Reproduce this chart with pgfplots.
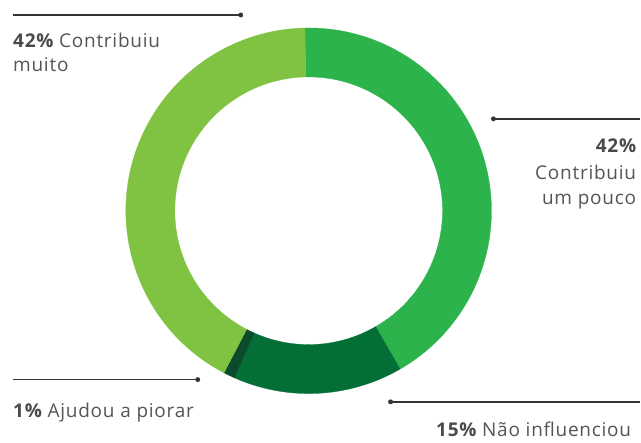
\documentclass[border=0pt]{standalone}
\usepackage{pgfplots}
\usepackage{pgfplotstable}
\pgfplotsset{compat=1.18}
\usepackage{fontspec}
\setmainfont{Open Sans}[LetterSpace=4]
\definecolor{cA}{HTML}{80C241}
\definecolor{cB}{HTML}{2DB34B}
\definecolor{cC}{HTML}{046E37}
\definecolor{cD}{HTML}{0C4A2C}
\definecolor{txt}{HTML}{555555}
\definecolor{txtb}{HTML}{4A4A4A}
\definecolor{linec}{HTML}{333333}
\pgfplotstableread{
label value col
pouco 42 cB
nao 15 cC
piorar 1 cD
muito 42 cA
}\datatable
\newcommand{\lbl}{\fontsize{19}{23}\selectfont\color{txt}}
\newcommand{\num}[1]{{\bfseries\color{txtb}#1}}
\begin{document}
\begin{tikzpicture}
\begin{axis}[width=641pt, height=443pt, scale only axis,
  xmin=0, xmax=641, ymin=0, ymax=443, hide axis, clip=false]
\path (axis cs:0,0) rectangle (axis cs:641,443);
\def\cum{0}
\pgfplotsforeachungrouped \i in {0,...,3}{%
  \pgfplotstablegetelem{\i}{value}\of\datatable \let\sliceval\pgfplotsretval
  \pgfplotstablegetelem{\i}{col}\of\datatable \let\slicecol\pgfplotsretval
  \pgfmathsetmacro\aa{91.2-3.6*\cum}%
  \pgfmathsetmacro\cum{\cum+\sliceval}%
  \pgfmathsetmacro\bb{91.2-3.6*\cum}%
  \edef\temp{\noexpand\filldraw[fill=\slicecol, draw=\slicecol, line width=0.3pt] (axis cs:309,232) ++(\aa:183pt) arc[start angle=\aa, end angle=\bb, radius=183pt] -- ++(\bb:-49pt) arc[start angle=\bb, end angle=\aa, radius=134pt] -- cycle;}%
  \temp
}
% leader lines
\addplot[linec, line width=1.4pt] coordinates {(13,428) (241,428)};
\addplot[linec, line width=1.4pt] coordinates {(494,324) (641,324)};
\addplot[linec, line width=1.4pt] coordinates {(13,63) (198,63)};
\addplot[linec, line width=1.4pt] coordinates {(391,40.7) (641,40.7)};
\addplot[only marks, mark=*, mark size=2.2pt, linec] coordinates {(241,428) (494,324) (198,63) (391,40.7)};
% labels
\node[anchor=base west, inner sep=0pt] at (axis cs:13,395.3) {\lbl\num{42\%} Contribuiu};
\node[anchor=base west, inner sep=0pt] at (axis cs:13,371.3) {\lbl muito};
\node[anchor=base east, inner sep=0pt] at (axis cs:637,290.3) {\lbl\num{42\%}};
\node[anchor=base east, inner sep=0pt] at (axis cs:637,263) {\lbl Contribuiu};
\node[anchor=base east, inner sep=0pt] at (axis cs:637,238) {\lbl um pouco};
\node[anchor=base west, inner sep=0pt] at (axis cs:13,24.7) {\lbl\num{1\%} Ajudou a piorar};
\node[anchor=base east, inner sep=0pt] at (axis cs:632,6.3) {\lbl\num{15\%} Não influenciou};
\end{axis}
\end{tikzpicture}
\end{document}
